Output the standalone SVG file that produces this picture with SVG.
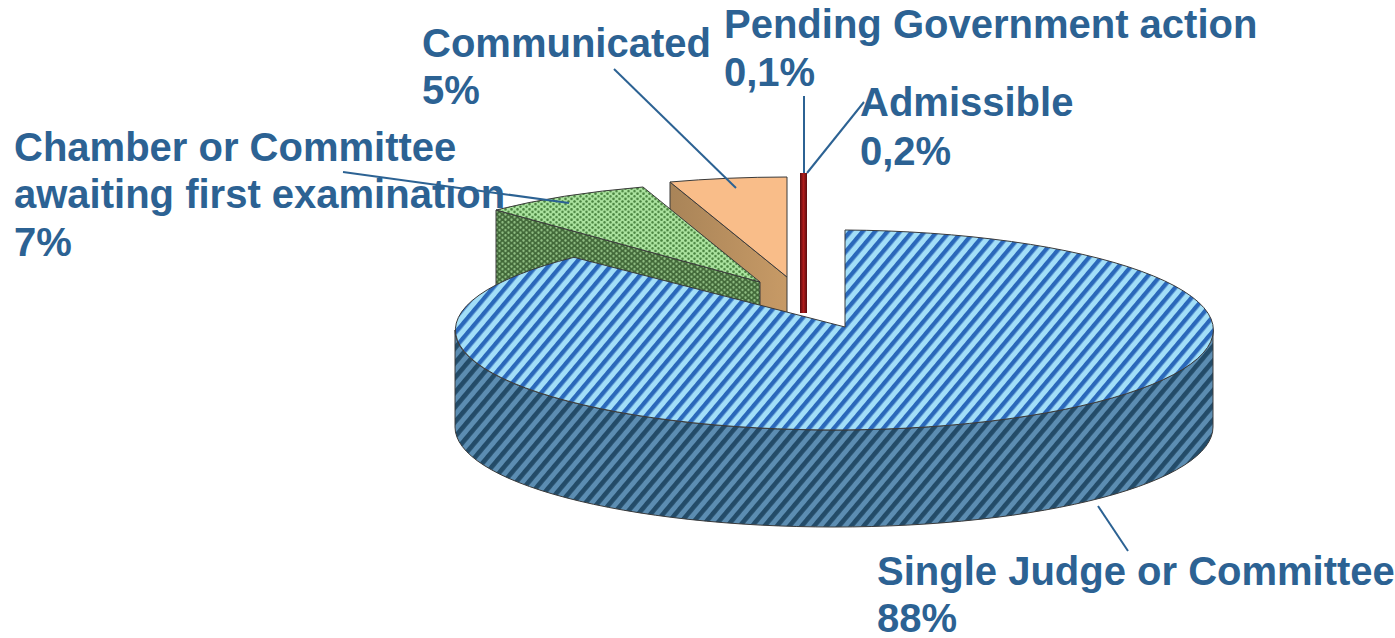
<svg xmlns="http://www.w3.org/2000/svg" width="1395" height="638" viewBox="0 0 1395 638">
<style>
.lbl{font-family:"Liberation Sans",Arial,sans-serif;font-weight:bold;font-size:40px;fill:#2c6293}
.lead{stroke:#2c6293;stroke-width:2;fill:none}
.edge{stroke:#3a3a3a;stroke-width:1;stroke-linejoin:round}
</style>
<defs>
<pattern id="blueTop" width="9.5" height="9.5" patternUnits="userSpaceOnUse" patternTransform="rotate(40)">
<rect width="9.5" height="9.5" fill="#a2def8"/>
<rect width="4.3" height="9.5" fill="#2a68ba"/>
</pattern>
<pattern id="blueSide" width="9.5" height="9.5" patternUnits="userSpaceOnUse" patternTransform="rotate(40)">
<rect width="9.5" height="9.5" fill="#5c8db2"/>
<rect width="4.6" height="9.5" fill="#234b68"/>
</pattern>
<pattern id="greenTop" width="6" height="5.2" patternUnits="userSpaceOnUse">
<rect width="6" height="5.2" fill="#abe39f"/>
<circle cx="1.5" cy="1.3" r="1.3" fill="#4a8440"/>
<circle cx="4.5" cy="3.9" r="1.3" fill="#4a8440"/>
</pattern>
<pattern id="greenSide" width="6" height="5.2" patternUnits="userSpaceOnUse">
<rect width="6" height="5.2" fill="#436a3a"/>
<circle cx="1.5" cy="1.3" r="1.2" fill="#8fbd82"/>
<circle cx="4.5" cy="3.9" r="1.2" fill="#8fbd82"/>
</pattern>
<linearGradient id="brown" x1="0" y1="0" x2="1" y2="0">
<stop offset="0" stop-color="#a98458"/>
<stop offset="1" stop-color="#c79a66"/>
</linearGradient>
<linearGradient id="red" x1="0" y1="0" x2="1" y2="0">
<stop offset="0" stop-color="#5a0c10"/>
<stop offset="0.5" stop-color="#b01c1c"/>
<stop offset="1" stop-color="#5a0c10"/>
</linearGradient>
</defs>
<rect width="1395" height="638" fill="#ffffff"/>

<g id="communicated-slice">
<path class="edge" d="M787,277 L670,182 L670,279 L787,374 Z" fill="url(#brown)"/>
<path class="edge" d="M787,277 L670,182 A379 100 0 0 1 787,177 Z" fill="#f9bd89"/>
</g>

<g id="pending-admissible-slice">
<rect x="800" y="173" width="7" height="140" fill="url(#red)"/>
</g>

<g id="chamber-slice">
<path class="edge" d="M760,282 L496,210 L496,306 L760,379 Z" fill="url(#greenSide)"/>
<path class="edge" d="M760,282 L496,210 A379 100 0 0 1 643,187 Z" fill="url(#greenTop)"/>
</g>

<g id="single-judge-slice">
<path class="edge" d="M455,330 A379 100 0 0 0 1213,330 L1213,427 A379 100 0 0 1 455,427 Z" fill="url(#blueSide)"/>
<path class="edge" d="M845,327 L845,230 A379 100 0 1 1 574,257.3 Z" fill="url(#blueTop)"/>
</g>

<g id="connectors">
<line class="lead" x1="614" y1="69" x2="736" y2="188"/>
<line class="lead" x1="343" y1="172" x2="569" y2="203"/>
<line class="lead" x1="804" y1="96" x2="804" y2="173"/>
<line class="lead" x1="864" y1="102" x2="807" y2="173"/>
<line class="lead" x1="1098" y1="506" x2="1128" y2="551"/>
</g>

<g id="labels">
<text class="lbl" x="422" y="57">Communicated</text>
<text class="lbl" x="422" y="104">5%</text>
<text class="lbl" x="724" y="38">Pending Government action</text>
<text class="lbl" x="724" y="86">0,1%</text>
<text class="lbl" x="860" y="116">Admissible</text>
<text class="lbl" x="860" y="165">0,2%</text>
<text class="lbl" x="14" y="161">Chamber or Committee</text>
<text class="lbl" x="14" y="208">awaiting first examination</text>
<text class="lbl" x="14" y="256">7%</text>
<text class="lbl" x="877" y="585">Single Judge or Committee</text>
<text class="lbl" x="877" y="632">88%</text>
</g>
</svg>
